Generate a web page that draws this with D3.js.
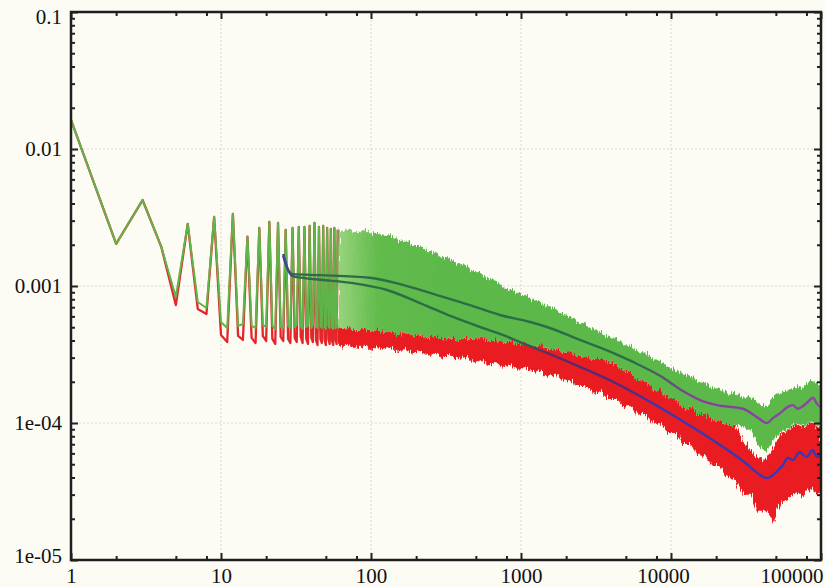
<!DOCTYPE html>
<html><head><meta charset="utf-8">
<script src="https://cdn.jsdelivr.net/npm/d3@7"></script>
<style>
html,body{margin:0;padding:0;background:#fcfcf5;}
svg{display:block;}
.tick text{font-family:"Liberation Serif","Times New Roman",serif;font-size:21px;}
</style></head><body>
<svg id="chart" width="825" height="587"></svg>
<script>
const xTickValues = [1, 10, 100, 1000, 10000, 100000];
const xTickLabels = ["1", "10", "100", "1000", "10000", "100000"];
const yTickValues = [1e-5, 1e-4, 1e-3, 1e-2, 1e-1];
const yTickLabels = ["1e-05", "1e-04", "0.001", "0.01", "0.1"];
const xMinorFactors = [2, 5, 8];
const yMinorFactors = [2, 3, 4, 5, 6, 7, 8, 9];

// low-frequency discrete points (x = 1..60)
const specX = [1,2,3,4,5,6,7,8,9,10,11,12,13,14,15,16,17,18,19,20,21,22,23,24,25,26,27,28,29,30,
  31,32,33,34,35,36,37,38,39,40,41,42,43,44,45,46,47,48,49,50,51,52,53,54,55,56,57,58,59,60];
const greenSpec = [1.63e-2,2.03e-3,4.24e-3,1.93e-3,8.31e-4,2.84e-3,7.64e-4,6.91e-4,3.20e-3,5.46e-4,
  4.94e-4,3.36e-3,5.11e-4,5.28e-4,2.29e-3,5.11e-4,4.94e-4,2.65e-3,5.20e-4,5.02e-4,
  2.94e-3,5.11e-4,4.86e-4,2.89e-3,5.02e-4,4.94e-4,2.57e-3,5.11e-4,4.94e-4,2.65e-3,
  5.02e-4,5.20e-4,2.70e-3,5.11e-4,4.86e-4,2.70e-3,5.02e-4,5.11e-4,2.75e-3,4.94e-4,
  5.20e-4,2.89e-3,5.02e-4,4.94e-4,2.70e-3,5.11e-4,4.94e-4,2.75e-3,5.02e-4,4.86e-4,
  2.65e-3,5.11e-4,4.94e-4,2.61e-3,5.02e-4,4.86e-4,2.65e-3,4.94e-4,5.02e-4,2.57e-3];
const redSpec = [1.63e-2,2.03e-3,4.24e-3,1.93e-3,7.26e-4,2.84e-3,6.80e-4,6.25e-4,3.20e-3,4.39e-4,
  3.90e-4,3.36e-3,4.32e-4,4.04e-4,2.29e-3,4.18e-4,3.84e-4,2.65e-3,4.32e-4,3.97e-4,
  2.94e-3,4.11e-4,3.78e-4,2.89e-3,4.25e-4,3.97e-4,2.57e-3,4.11e-4,3.84e-4,2.65e-3,
  4.18e-4,3.90e-4,2.70e-3,4.25e-4,3.84e-4,2.70e-3,4.11e-4,3.78e-4,2.75e-3,4.18e-4,
  3.90e-4,2.89e-3,4.04e-4,3.71e-4,2.70e-3,4.11e-4,3.84e-4,2.75e-3,4.04e-4,3.71e-4,
  2.65e-3,4.11e-4,3.78e-4,2.61e-3,3.97e-4,3.71e-4,2.65e-3,4.04e-4,3.78e-4,2.57e-3];

// noisy band envelopes (x >= 60)
const bandX = [60,65,70,80,90,100,110,120,135,150,170,190,210,240,270,300,340,380,430,480,
  540,600,680,760,850,950,1070,1200,1350,1500,1700,1900,2100,2400,2700,3000,3400,3800,4300,4800,
  5400,6000,6800,7600,8500,9500,10700,12000,13500,15000,17000,19000,21000,24000,27000,30000,34000,38000,43000,48000,
  54000,60000,68000,76000,85000,95000,100000];
const greenHi = [2.65e-3,2.48e-3,2.61e-3,2.44e-3,2.57e-3,2.40e-3,2.48e-3,2.32e-3,2.36e-3,2.17e-3,
  2.14e-3,1.96e-3,1.96e-3,1.80e-3,1.74e-3,1.61e-3,1.58e-3,1.45e-3,1.43e-3,1.27e-3,
  1.24e-3,1.13e-3,1.09e-3,9.83e-4,9.51e-4,8.74e-4,8.74e-4,7.90e-4,7.64e-4,6.91e-4,
  6.80e-4,6.14e-4,6.04e-4,5.46e-4,5.28e-4,4.78e-4,4.70e-4,4.25e-4,4.18e-4,3.71e-4,
  3.65e-4,3.30e-4,3.25e-4,2.94e-4,2.84e-4,2.57e-4,2.48e-4,2.21e-4,2.21e-4,2.00e-4,
  1.96e-4,1.77e-4,1.80e-4,1.63e-4,1.66e-4,1.53e-4,1.55e-4,1.40e-4,1.33e-4,1.53e-4,
  1.68e-4,1.71e-4,1.86e-4,1.77e-4,2.06e-4,1.93e-4,1.86e-4];
const greenLo = [5.11e-4,4.78e-4,5.02e-4,4.70e-4,4.94e-4,4.62e-4,4.86e-4,4.54e-4,4.70e-4,4.39e-4,
  4.62e-4,4.32e-4,4.47e-4,4.18e-4,4.32e-4,4.04e-4,4.25e-4,3.97e-4,4.25e-4,4.04e-4,
  4.25e-4,3.97e-4,4.11e-4,3.84e-4,3.97e-4,3.71e-4,3.84e-4,3.59e-4,3.71e-4,3.42e-4,
  3.47e-4,3.25e-4,3.30e-4,3.04e-4,3.09e-4,2.89e-4,2.99e-4,2.75e-4,2.70e-4,2.40e-4,
  2.36e-4,2.06e-4,2.00e-4,1.74e-4,1.74e-4,1.53e-4,1.50e-4,1.27e-4,1.31e-4,1.15e-4,
  1.18e-4,1.03e-4,1.05e-4,9.51e-5,9.83e-5,9.19e-5,8.89e-5,6.91e-5,6.14e-5,7.51e-5,
  8.59e-5,8.89e-5,1.00e-4,9.51e-5,1.03e-4,9.19e-5,9.51e-5];
const redHi = [5.11e-4,4.78e-4,5.02e-4,4.70e-4,4.94e-4,4.62e-4,4.86e-4,4.54e-4,4.70e-4,4.39e-4,
  4.62e-4,4.32e-4,4.47e-4,4.18e-4,4.32e-4,4.04e-4,4.25e-4,3.97e-4,4.25e-4,4.04e-4,
  4.25e-4,3.97e-4,4.11e-4,3.84e-4,3.97e-4,3.71e-4,3.84e-4,3.59e-4,3.71e-4,3.42e-4,
  3.47e-4,3.25e-4,3.30e-4,3.04e-4,3.09e-4,2.89e-4,2.99e-4,2.75e-4,2.70e-4,2.40e-4,
  2.36e-4,2.06e-4,2.00e-4,1.74e-4,1.74e-4,1.53e-4,1.50e-4,1.27e-4,1.31e-4,1.15e-4,
  1.18e-4,1.03e-4,1.05e-4,9.51e-5,9.83e-5,7.51e-5,6.35e-5,5.55e-5,5.37e-5,6.68e-5,
  8.31e-5,8.74e-5,9.83e-5,9.35e-5,1.02e-4,9.04e-5,9.35e-5];
const redLo = [3.84e-4,3.53e-4,3.78e-4,3.47e-4,3.71e-4,3.36e-4,3.65e-4,3.42e-4,3.59e-4,3.30e-4,
  3.47e-4,3.20e-4,3.36e-4,3.09e-4,3.25e-4,2.99e-4,3.14e-4,2.89e-4,3.04e-4,2.75e-4,
  2.89e-4,2.61e-4,2.79e-4,2.52e-4,2.70e-4,2.44e-4,2.57e-4,2.36e-4,2.44e-4,2.21e-4,
  2.25e-4,2.03e-4,2.06e-4,1.86e-4,1.86e-4,1.66e-4,1.68e-4,1.50e-4,1.50e-4,1.31e-4,
  1.33e-4,1.15e-4,1.17e-4,9.83e-5,1.00e-4,8.45e-5,8.45e-5,7.03e-5,7.03e-5,5.74e-5,
  5.84e-5,4.86e-5,4.86e-5,3.90e-5,3.84e-5,3.04e-5,3.04e-5,2.25e-5,2.32e-5,1.93e-5,
  2.65e-5,2.75e-5,3.14e-5,2.89e-5,3.36e-5,3.04e-5,3.25e-5];

// smoothed means
const lowerX = [26,28,30,34,46,76,128,212,352,533,724,985,1490,2470,4100,7240,12000,20300,30200,35000,
  41000,44000,47900,52000,55800,60000,65000,72000,80000,88000,94000,100000];
const lowerMean = [1.66e-3,1.31e-3,1.18e-3,1.15e-3,1.11e-3,1.05e-3,9.35e-4,7.51e-4,5.94e-4,5.02e-4,
  4.47e-4,3.90e-4,3.25e-4,2.57e-4,2.00e-4,1.43e-4,1.03e-4,7.15e-5,5.28e-5,4.62e-5,
  4.04e-5,3.97e-5,4.18e-5,4.54e-5,4.94e-5,5.55e-5,5.37e-5,6.14e-5,5.64e-5,6.35e-5,5.64e-5,5.84e-5];
const upperX = [26,28,30,46,98,163,275,457,724,1150,1490,2470,4100,5580,8450,12000,15600,20300,30200,38000,
  43600,48000,53300,60000,65000,70000,76000,82000,88500,94000,100000];
const upperMean = [1.71e-3,1.31e-3,1.22e-3,1.20e-3,1.15e-3,1.02e-3,8.59e-4,7.26e-4,6.14e-4,5.46e-4,
  5.02e-4,4.04e-4,3.25e-4,2.79e-4,2.21e-4,1.71e-4,1.47e-4,1.35e-4,1.27e-4,1.09e-4,
  1.00e-4,1.09e-4,1.18e-4,1.31e-4,1.35e-4,1.27e-4,1.33e-4,1.43e-4,1.53e-4,1.38e-4,1.31e-4];

const svg = d3.select("#chart");
const L = 71, R = 821, T = 12, B = 560;
const x = d3.scaleLog().domain([1, 100000]).range([L, R]);
const y = d3.scaleLog().domain([1e-5, 1e-1]).range([B, T]);

svg.append("rect").attr("width", 825).attr("height", 587).attr("fill", "#fcfcf5");

const defs = svg.append("defs");
defs.append("clipPath").attr("id", "clip").append("rect")
  .attr("x", L).attr("y", T).attr("width", R - L).attr("height", B - T);
const flt = defs.append("filter").attr("id", "rough")
  .attr("x", "-2%").attr("y", "-15%").attr("width", "104%").attr("height", "130%");
flt.append("feTurbulence").attr("type", "fractalNoise").attr("baseFrequency", "0.8 0.06")
  .attr("numOctaves", 2).attr("seed", 4).attr("result", "n");
flt.append("feDisplacementMap").attr("in", "SourceGraphic").attr("in2", "n").attr("scale", 9)
  .attr("xChannelSelector", "R").attr("yChannelSelector", "G");

function gradient(id, stops, attr) {
  const g = defs.append("linearGradient").attr("id", id).attr("gradientUnits", "userSpaceOnUse")
    .attr("x1", L).attr("x2", R).attr("y1", 0).attr("y2", 0);
  stops.forEach(([v, c, o]) => g.append("stop").attr("offset", (x(v) - L) / (R - L))
    .attr("stop-color", c).attr("stop-opacity", o === undefined ? 1 : o));
}
gradient("gUp", [[26, "#4a3aa8"], [33, "#2c6d46"], [6000, "#2c6d46"], [15000, "#86409e"], [100000, "#8e44a8"]]);
gradient("gLow", [[26, "#3a3aa8"], [33, "#2c6d46"], [900, "#2c6d46"], [1500, "#5e2a64"], [5000, "#4a2c84"], [8000, "#3838b0"], [100000, "#3838b0"]]);
gradient("gBand", [[60, "#86cc68", 0.85], [110, "#62bb4c"], [300, "#5cb94a"], [100000, "#5cb94a"]]);

// grid
const grid = svg.append("g").attr("stroke", "#d6d6d6").attr("stroke-width", 1).attr("stroke-dasharray", "2,2");
grid.selectAll(".gx").data(xTickValues.slice(1, -1)).join("line")
  .attr("x1", d => x(d)).attr("x2", d => x(d)).attr("y1", T).attr("y2", B);
grid.selectAll(".gy").data(yTickValues.slice(1, -1)).join("line")
  .attr("y1", d => y(d)).attr("y2", d => y(d)).attr("x1", L).attr("x2", R);

const plot = svg.append("g").attr("clip-path", "url(#clip)");
const band = bandX.map((v, i) => ({x: v, gh: greenHi[i], gl: greenLo[i], rh: redHi[i], rl: redLo[i]}));
const spec = specX.map((v, i) => ({x: v, g: greenSpec[i], r: redSpec[i]}));

const rough = plot.append("g").attr("filter", "url(#rough)");
rough.append("path").datum(band).attr("fill", "#e91d20")
  .attr("d", d3.area().x(d => x(d.x)).y0(d => y(d.rl)).y1(d => y(d.rh)));
plot.append("path").datum(spec).attr("fill", "none").attr("stroke", "#e3262a").attr("stroke-width", 2.3)
  .attr("stroke-linejoin", "round").attr("d", d3.line().x(d => x(d.x)).y(d => y(d.r)));
const rough2 = plot.append("g").attr("filter", "url(#rough)");
rough2.append("path").datum(band).attr("fill", "url(#gBand)")
  .attr("d", d3.area().x(d => x(d.x)).y0(d => y(d.gl)).y1(d => y(d.gh)));
plot.append("path").datum(spec).attr("fill", "none").attr("stroke", "#5fb44a").attr("stroke-width", 2)
  .attr("stroke-linejoin", "round").attr("d", d3.line().x(d => x(d.x)).y(d => y(d.g)));

plot.append("path").datum(lowerX.map((v, i) => [v, lowerMean[i]])).attr("fill", "none")
  .attr("stroke", "url(#gLow)").attr("stroke-width", 2.4)
  .attr("d", d3.line().x(d => x(d[0])).y(d => y(d[1])).curve(d3.curveMonotoneX));
plot.append("path").datum(upperX.map((v, i) => [v, upperMean[i]])).attr("fill", "none")
  .attr("stroke", "url(#gUp)").attr("stroke-width", 2.4)
  .attr("d", d3.line().x(d => x(d[0])).y(d => y(d[1])).curve(d3.curveMonotoneX));

// axes
const minorX = [];
xTickValues.slice(0, -1).forEach(d => xMinorFactors.forEach(f => minorX.push(d * f)));
const minorY = [];
yTickValues.slice(0, -1).forEach(d => yMinorFactors.forEach(f => minorY.push(d * f)));

function styleAxis(g) {
  g.select(".domain").remove();
  g.attr("font-family", null).attr("font-size", null);
  g.selectAll(".tick line").attr("stroke", "#222").attr("stroke-width", 2);
  g.selectAll(".tick text").attr("fill", "#111");
}
const axB = svg.append("g").attr("transform", `translate(0,${B})`)
  .call(d3.axisBottom(x).tickValues(xTickValues).tickFormat((d, i) => xTickLabels[i])
    .tickSizeInner(-7).tickSizeOuter(0).tickPadding(8)).call(styleAxis);
axB.selectAll(".tick text").filter((d, i) => i === xTickValues.length - 1).attr("text-anchor", "end").attr("x", 2);
axB.selectAll(".tick text").filter((d, i) => i === xTickValues.length - 2).attr("x", -8);
svg.append("g").attr("transform", `translate(0,${B})`)
  .call(d3.axisBottom(x).tickValues(minorX).tickFormat("").tickSizeInner(-4).tickSizeOuter(0)).call(styleAxis);
svg.append("g").attr("transform", `translate(0,${T})`)
  .call(d3.axisTop(x).tickValues(xTickValues).tickFormat("").tickSizeInner(-7).tickSizeOuter(0)).call(styleAxis);
svg.append("g").attr("transform", `translate(0,${T})`)
  .call(d3.axisTop(x).tickValues(minorX).tickFormat("").tickSizeInner(-4).tickSizeOuter(0)).call(styleAxis);

const axL = svg.append("g").attr("transform", `translate(${L},0)`)
  .call(d3.axisLeft(y).tickValues(yTickValues).tickFormat((d, i) => yTickLabels[i])
    .tickSizeInner(-7).tickSizeOuter(0).tickPadding(9)).call(styleAxis);
axL.selectAll(".tick text").filter((d, i) => i === yTickValues.length - 1).attr("y", 5);
axL.selectAll(".tick text").filter((d, i) => i === 0).attr("y", -4);
svg.append("g").attr("transform", `translate(${L},0)`)
  .call(d3.axisLeft(y).tickValues(minorY).tickFormat("").tickSizeInner(-4).tickSizeOuter(0)).call(styleAxis);
svg.append("g").attr("transform", `translate(${R},0)`)
  .call(d3.axisRight(y).tickValues(yTickValues).tickFormat("").tickSizeInner(-7).tickSizeOuter(0)).call(styleAxis);
svg.append("g").attr("transform", `translate(${R},0)`)
  .call(d3.axisRight(y).tickValues(minorY).tickFormat("").tickSizeInner(-4).tickSizeOuter(0)).call(styleAxis);

svg.append("rect").attr("x", L).attr("y", T).attr("width", R - L).attr("height", B - T)
  .attr("fill", "none").attr("stroke", "#1e1e1e").attr("stroke-width", 2.5);
</script>
</body></html>
